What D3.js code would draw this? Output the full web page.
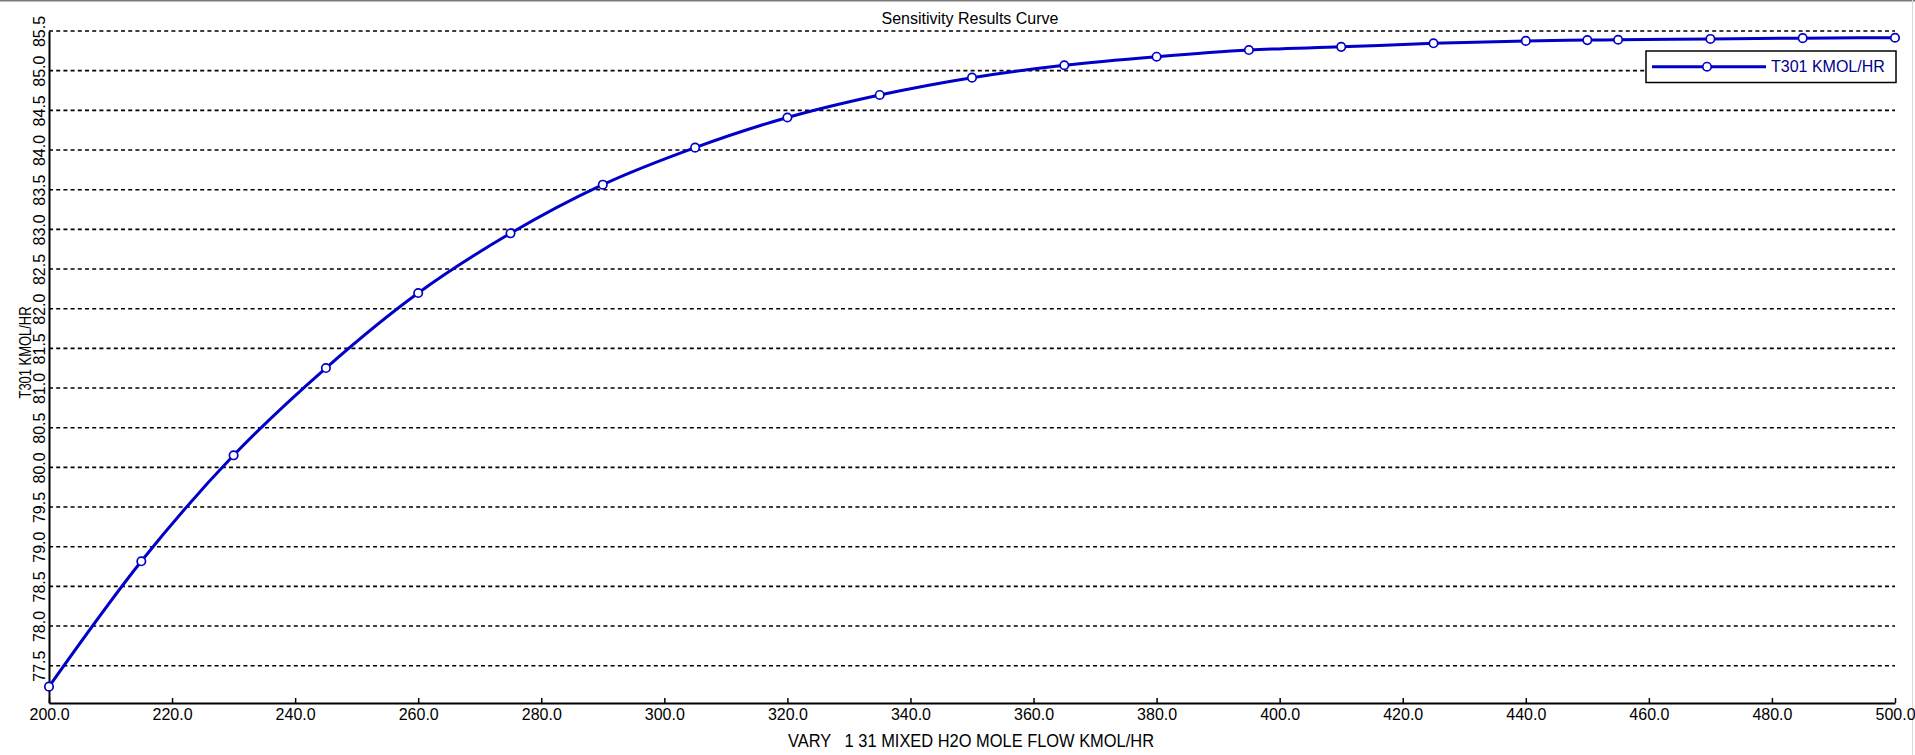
<!DOCTYPE html>
<html>
<head>
<meta charset="utf-8">
<script src="https://cdn.jsdelivr.net/npm/d3@7"></script>
<style>
  html, body { margin: 0; padding: 0; background: #fff; }
  svg { display: block; }
  text { font-family: "Liberation Sans", Arial, sans-serif; }
</style>
</head>
<body>
<svg id="chart" width="1915" height="755"></svg>
<script>
// ---- data ----
const flowValues = [200, 215, 230, 245, 260, 275, 290, 305, 320, 335, 350, 365, 380, 395, 410, 425, 440, 450, 455, 470, 485, 500];
const t301Values = [77.236, 78.816, 80.152, 81.252, 82.198, 82.95, 83.563, 84.03, 84.41, 84.694, 84.912, 85.068, 85.176, 85.26, 85.30, 85.345, 85.375, 85.385, 85.39, 85.40, 85.41, 85.415];
const xTickValues = [200, 220, 240, 260, 280, 300, 320, 340, 360, 380, 400, 420, 440, 460, 480, 500];
const yTickValues = [77.5, 78.0, 78.5, 79.0, 79.5, 80.0, 80.5, 81.0, 81.5, 82.0, 82.5, 83.0, 83.5, 84.0, 84.5, 85.0, 85.5];
const xDomain = [200, 500];
const yDomain = [77.03, 85.5];
const titleText = "Sensitivity Results Curve";
const xLabelText = "VARY   1 31 MIXED H2O MOLE FLOW KMOL/HR";
const yLabelText = "T301 KMOL/HR";
const seriesName = "T301 KMOL/HR";

const data = flowValues.map((v, i) => ({ x: v, y: t301Values[i] }));

// ---- layout ----
const plotLeft = 49, plotRight = 1895, plotTop = 31, plotBottom = 703;
const lineColor = "#0000c8";

const svg = d3.select("#chart");

// window border lines
svg.append("line").attr("x1", 0).attr("x2", 1915).attr("y1", 0.75).attr("y2", 0.75)
  .attr("stroke", "#7a7a7a").attr("stroke-width", 1.5);
svg.append("line").attr("x1", 1912.5).attr("x2", 1912.5).attr("y1", 0).attr("y2", 755)
  .attr("stroke", "#d8d8d8").attr("stroke-width", 1);

const xScale = d3.scaleLinear().domain(xDomain).range([plotLeft, plotRight]);
const yScale = d3.scaleLinear().domain(yDomain).range([plotBottom, plotTop]);

// gridlines
svg.append("g").selectAll("line").data(yTickValues).join("line")
  .attr("x1", plotLeft).attr("x2", plotRight)
  .attr("y1", d => yScale(d)).attr("y2", d => yScale(d))
  .attr("stroke", "#000").attr("stroke-width", 1.6)
  .attr("stroke-dasharray", "4,3.2");

// x axis
const xAxis = svg.append("g").attr("transform", `translate(0,${plotBottom})`)
  .call(d3.axisBottom(xScale).tickValues(xTickValues).tickFormat(d3.format(".1f"))
    .tickSizeInner(-5).tickSizeOuter(0).tickPadding(6));
xAxis.select(".domain").attr("stroke", "#000").attr("stroke-width", 2);
xAxis.selectAll(".tick line").attr("stroke", "#000").attr("stroke-width", 1.5);
xAxis.selectAll(".tick text").attr("font-size", 16).attr("fill", "#000")
  .style("font-family", '"Liberation Sans", Arial, sans-serif');

// y axis
const yAxis = svg.append("g").attr("transform", `translate(${plotLeft},0)`)
  .call(d3.axisLeft(yScale).tickValues(yTickValues).tickFormat(d3.format(".1f"))
    .tickSize(0).tickPadding(0));
yAxis.select(".domain").attr("stroke", "#000").attr("stroke-width", 2);
yAxis.selectAll(".tick text")
  .attr("transform", "rotate(-90)")
  .attr("x", 0).attr("y", -4).attr("dy", 0)
  .attr("text-anchor", "middle")
  .attr("font-size", 16).attr("fill", "#000")
  .style("font-family", '"Liberation Sans", Arial, sans-serif');

// curve
const lineGen = d3.line().x(d => xScale(d.x)).y(d => yScale(d.y)).curve(d3.curveMonotoneX);
svg.append("path").datum(data)
  .attr("d", lineGen).attr("fill", "none")
  .attr("stroke", lineColor).attr("stroke-width", 3);

svg.append("g").selectAll("circle").data(data).join("circle")
  .attr("cx", d => xScale(d.x)).attr("cy", d => yScale(d.y)).attr("r", 4.2)
  .attr("fill", "#fff").attr("stroke", lineColor).attr("stroke-width", 1.7);

// title
svg.append("text").attr("x", 970).attr("y", 24)
  .attr("text-anchor", "middle").attr("font-size", 16).attr("fill", "#000")
  .text(titleText);

// x label
svg.append("text").attr("x", 788).attr("y", 747)
  .attr("font-size", 18).attr("fill", "#000")
  .attr("textLength", 366).attr("lengthAdjust", "spacingAndGlyphs")
  .style("white-space", "pre")
  .text(xLabelText);

// y label
svg.append("text").attr("transform", "translate(31,352.5) rotate(-90)")
  .attr("text-anchor", "middle").attr("font-size", 17).attr("fill", "#000")
  .attr("textLength", 92).attr("lengthAdjust", "spacingAndGlyphs")
  .text(yLabelText);

// legend
const lg = svg.append("g");
lg.append("rect").attr("x", 1646).attr("y", 51).attr("width", 250).attr("height", 31.5)
  .attr("fill", "#fff").attr("stroke", "#000").attr("stroke-width", 1.5);
lg.append("line").attr("x1", 1652).attr("x2", 1766).attr("y1", 66.7).attr("y2", 66.7)
  .attr("stroke", lineColor).attr("stroke-width", 3);
lg.append("circle").attr("cx", 1707).attr("cy", 66.7).attr("r", 4.2)
  .attr("fill", "#fff").attr("stroke", lineColor).attr("stroke-width", 1.7);
lg.append("text").attr("x", 1771).attr("y", 72.3)
  .attr("font-size", 16).attr("fill", "#00008b")
  .text(seriesName);
</script>
</body>
</html>
